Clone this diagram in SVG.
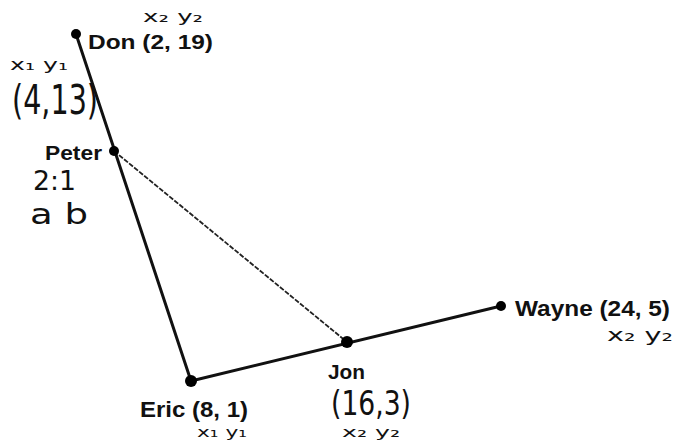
<svg xmlns="http://www.w3.org/2000/svg" width="678" height="442" viewBox="0 0 678 442">
<style>
.lbl{font-family:"Liberation Sans",Arial,sans-serif;font-weight:bold;fill:#111}
.hw{font-family:"DejaVu Sans","Liberation Sans",sans-serif;font-weight:normal;fill:#111}
.dot{fill:#000}
.seg{stroke:#111;stroke-width:3;fill:none;stroke-linecap:round}
.thin{stroke:#222;stroke-width:1.8;fill:none;stroke-dasharray:5 1.5}
</style>
<rect width="678" height="442" fill="#fff"/>
<g id="connectors">
<line class="seg" x1="76" y1="34" x2="191" y2="381"/>
<line class="seg" x1="191" y1="381" x2="501" y2="306"/>
<line class="thin" x1="114" y1="151" x2="347" y2="342"/>
</g>
<g id="don">
<circle class="dot" cx="76" cy="34" r="5"/>
<text class="lbl" x="88" y="49" font-size="20" textLength="125" lengthAdjust="spacingAndGlyphs">Don (2, 19)</text>
<text class="hw" x="143" y="22" font-size="16" textLength="60" lengthAdjust="spacingAndGlyphs">x₂ y₂</text>
</g>
<g id="peter">
<circle class="dot" cx="114" cy="151" r="5"/>
<text class="lbl" x="45" y="160" font-size="21" textLength="57" lengthAdjust="spacingAndGlyphs">Peter</text>
<text class="hw" x="10" y="70" font-size="16" textLength="58" lengthAdjust="spacingAndGlyphs">x₁ y₁</text>
<text class="hw" x="12" y="114" font-size="40" textLength="86" lengthAdjust="spacingAndGlyphs">(4,13)</text>
<text class="hw" x="33" y="190" font-size="26" textLength="43" lengthAdjust="spacingAndGlyphs">2:1</text>
<text class="hw" x="30" y="224" font-size="28" textLength="58" lengthAdjust="spacingAndGlyphs">a b</text>
</g>
<g id="eric">
<circle class="dot" cx="191" cy="381" r="6"/>
<text class="lbl" x="140" y="417" font-size="22" textLength="108" lengthAdjust="spacingAndGlyphs">Eric (8, 1)</text>
<text class="hw" x="197" y="437" font-size="14" textLength="50" lengthAdjust="spacingAndGlyphs">x₁ y₁</text>
</g>
<g id="jon">
<circle class="dot" cx="347" cy="342" r="6"/>
<text class="lbl" x="328" y="379" font-size="21" textLength="37" lengthAdjust="spacingAndGlyphs">Jon</text>
<text class="hw" x="331" y="415" font-size="33" textLength="80" lengthAdjust="spacingAndGlyphs">(16,3)</text>
<text class="hw" x="342" y="437" font-size="14" textLength="58" lengthAdjust="spacingAndGlyphs">x₂ y₂</text>
</g>
<g id="wayne">
<circle class="dot" cx="501" cy="306" r="5"/>
<text class="lbl" x="515" y="316" font-size="22" textLength="155" lengthAdjust="spacingAndGlyphs">Wayne (24, 5)</text>
<text class="hw" x="607" y="341" font-size="18" textLength="66" lengthAdjust="spacingAndGlyphs">x₂ y₂</text>
</g>
</svg>
